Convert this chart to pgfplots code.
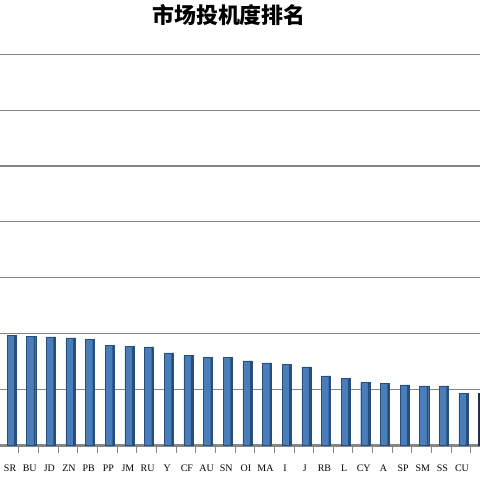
\documentclass[border=0pt]{standalone}
\usepackage{fontspec}
\setmainfont{Liberation Serif}
\newfontfamily\cjk{Noto Sans CJK SC}
\usepackage{pgfplots}
\usepackage{pgfplotstable}
\pgfplotsset{compat=1.18}
\definecolor{barblue}{RGB}{74,126,187}
\definecolor{barside}{RGB}{40,78,124}
\definecolor{barnavy}{RGB}{31,50,79}
\definecolor{gridgray}{RGB}{134,134,134}

% x = category index, y = speculation score (grid step = 1)
\pgfplotstableread{
x y
0 1.97
1 1.95
2 1.94
3 1.92
4 1.89
5 1.79
6 1.77
7 1.76
8 1.65
9 1.61
10 1.57
11 1.57
12 1.51
13 1.47
14 1.44
15 1.40
16 1.24
17 1.19
18 1.12
19 1.11
20 1.08
21 1.06
22 1.06
23 0.93
}\ranking
\pgfplotstableread{
x y
24 0.92
}\lastbar

\begin{document}
\begin{tikzpicture}
\clip (0,0) rectangle (480bp,480bp);
\begin{axis}[
    at={(0,33.3bp)}, anchor=south west,
    scale only axis,
    width=480bp, height=446.7bp,
    xmin=-0.588, xmax=23.84,
    ymin=-0.03, ymax=7.975,
    axis x line*=bottom, axis y line*=left,
    y axis line style={draw=none},
    x axis line style={gridgray, line width=1bp},
    ytick={0,...,7}, yticklabels={},
    ymajorgrids,
    grid style={gridgray, line width=1.1bp},
    major tick length=0pt,
    xtick={0,...,24},
    xticklabels={SR,BU,JD,ZN,PB,PP,JM,RU,Y,CF,AU,SN,OI,MA,I,J,RB,L,CY,A,SP,SM,SS,CU,FU},
    xticklabel style={font=\fontsize{10}{12}\selectfont, yshift=-15bp, xshift=-1.5bp},
    extra x ticks={-0.63,0.37,1.37,2.37,3.37,4.37,5.37,6.37,7.37,8.37,9.37,10.37,11.37,12.37,13.37,14.37,15.37,16.37,17.37,18.37,19.37,20.37,21.37,22.37,23.37},
    extra x tick labels={},
    extra x tick style={major tick length=6bp, tick align=outside, tick style={gridgray, line width=0.8bp}, grid=none},
    ybar, bar width=0.46,
]
\addplot[fill=barblue, draw=barside, line width=0.4bp, bar shift=0] table[x=x, y=y] {\ranking};
\addplot[fill=barside, draw=none, bar width=0.1, bar shift=0.18] table[x=x, y=y] {\ranking};
\addplot[fill=barnavy, draw=barnavy, bar shift=0] table[x=x, y=y] {\lastbar};
\end{axis}
\node at (229bp,464.5bp) {\cjk\bfseries\fontsize{22}{24}\selectfont 市场投机度排名};
\end{tikzpicture}
\end{document}
